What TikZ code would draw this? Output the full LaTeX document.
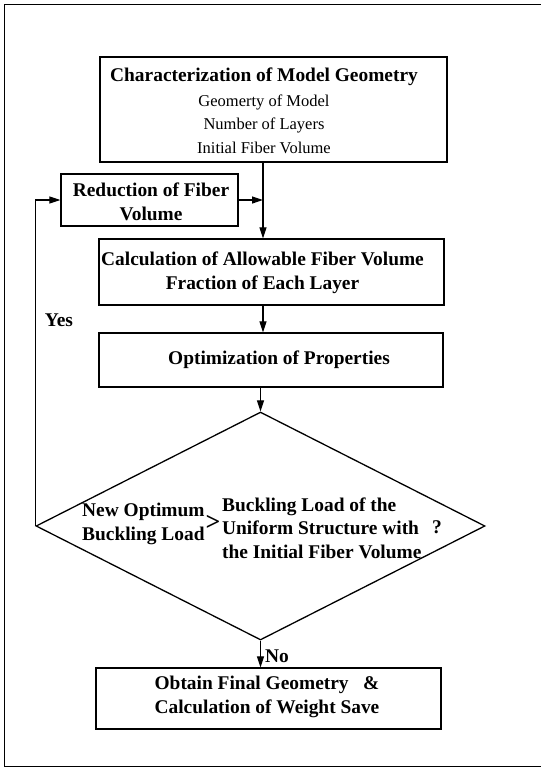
\documentclass[tikz,border=0pt]{standalone}
\usepackage{fontspec}
\setmainfont{Liberation Serif}
\usetikzlibrary{arrows.meta,shapes.geometric,positioning}

\tikzset{
  box/.style = {draw, line width=1.3pt, inner sep=0pt},
  txt/.style = {inner sep=0pt, align=center, font=\bfseries\fontsize{19.4}{23.5}\selectfont},
  txtl/.style = {txt, align=left},
  flow/.style = {line width=1.2pt, -{Triangle[length=11pt,width=7pt]}}
}

\begin{document}
\begin{tikzpicture}[
        x = 1pt,
        y = -1pt
        ]
        \useasboundingbox (0, 0) rectangle (541, 769);
        \draw[line width=0.9pt] (545, 4) -- (4, 4) -- (4, 766) -- (545, 766);

        % boxes
        \node[box, minimum width=347, minimum height=105] (chr) at (273.5, 109.5) {};
        \node[box, minimum width=177, minimum height=52] (red) at (149.5, 200) {};
        \node[box, minimum width=345, minimum height=66] (calc) at (271.5, 272) {};
        \node[box, minimum width=344, minimum height=54] (opt) at (271, 360) {};
        \node[box, diamond, minimum width=449, minimum height=228] (dec) at (260.5, 526) {};
        \node[box, minimum width=345, minimum height=61] (fin) at (268.5, 698.5) {};

        % texts
        \node[txt] (chrlbl) at (264, 111) {Characterization of Model Geometry\\[1pt]
            {\mdseries\fontsize{16.5}{21.5}\selectfont Geomerty of Model}\\
            {\mdseries\fontsize{16.5}{21.5}\selectfont Number of Layers}\\
            {\mdseries\fontsize{16.5}{21.5}\selectfont Initial Fiber Volume}};
        \node[txt] (redlbl) at (151, 202) {Reduction of Fiber\\Volume};
        \node[txt] (calclbl) at (262.5, 273) {Calculation of Allowable Fiber Volume\\Fraction of Each Layer};
        \node[txt] (optlbl) at (279, 360) {Optimization of Properties};
        \node[txtl, anchor=west] (newlbl) at (82, 524) {New Optimum\\Buckling Load};
        \node[txt, font=\bfseries\fontsize{26}{26}\selectfont] (gtlbl) at (213, 523) {>};
        \node[txtl, anchor=west] (unilbl) at (222, 528) {Buckling Load of the\\Uniform Structure with\\the Initial Fiber Volume};
        \node[txt] (qlbl) at (437, 527) {?};
        \node[txt] (finlbl) at (267, 697) {Obtain Final Geometry~~~\&\\Calculation of Weight Save};
        \node[txt] (yes) at (59, 320) {Yes};
        \node[txt] (no) at (277, 656) {No};

        % connectors
        \coordinate (j) at (263, 200);
        \draw[line width=1.2pt] (chr.south -| j) -- (j);
        \draw[flow] (j) -- (j |- calc.north);
        \draw[flow] (red.east) -- (j);
        \draw[flow] (calc.south -| j) -- (opt.north -| j);
        \draw[flow] (opt.south -| dec.north) -- (dec.north);
        \draw[flow] (dec.south) -- (dec.south |- fin.north);
        \draw[flow] (dec.west) -- (dec.west |- red.west) -- (red.west);
\end{tikzpicture}
\end{document}
